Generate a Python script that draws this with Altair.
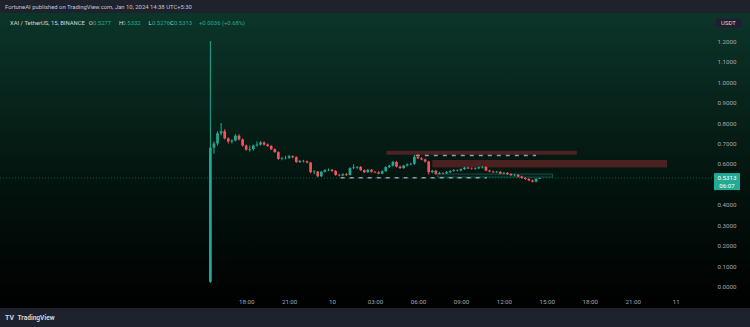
import altair as alt
import pandas as pd

# ---------------- data ----------------
times = pd.date_range("2024-01-09 15:30", "2024-01-10 14:30", freq="15min")  # 15m candles (UTC+5:30)

opens = [0.025, 0.680, 0.700, 0.750, 0.760, 0.725, 0.710, 0.715, 0.738, 0.720,
         0.690, 0.670, 0.673, 0.690, 0.695, 0.705, 0.695, 0.688, 0.672, 0.658,
         0.625, 0.628, 0.630, 0.638, 0.633, 0.610, 0.615, 0.613, 0.607, 0.560,
         0.563, 0.540, 0.562, 0.570, 0.572, 0.566, 0.547, 0.544, 0.550, 0.546,
         0.580, 0.583, 0.586, 0.570, 0.560, 0.572, 0.562, 0.559, 0.553, 0.565,
         0.585, 0.592, 0.610, 0.587, 0.580, 0.592, 0.598, 0.601, 0.635, 0.628,
         0.622, 0.612, 0.560, 0.567, 0.552, 0.556, 0.554, 0.560, 0.566, 0.570,
         0.568, 0.575, 0.582, 0.578, 0.576, 0.579, 0.584, 0.586, 0.568, 0.563,
         0.560, 0.562, 0.553, 0.557, 0.551, 0.545, 0.547, 0.539, 0.532, 0.527,
         0.520, 0.514, 0.5277]
highs = [1.200, 0.710, 0.760, 0.800, 0.770, 0.730, 0.720, 0.745, 0.745, 0.725,
         0.695, 0.690, 0.695, 0.710, 0.712, 0.710, 0.700, 0.692, 0.676, 0.662,
         0.635, 0.640, 0.645, 0.642, 0.638, 0.620, 0.620, 0.617, 0.610, 0.570,
         0.566, 0.566, 0.575, 0.578, 0.576, 0.570, 0.552, 0.555, 0.556, 0.584,
         0.598, 0.590, 0.590, 0.574, 0.576, 0.576, 0.566, 0.565, 0.569, 0.589,
         0.597, 0.615, 0.615, 0.592, 0.596, 0.603, 0.606, 0.645, 0.648, 0.633,
         0.626, 0.616, 0.572, 0.571, 0.562, 0.560, 0.566, 0.570, 0.575, 0.574,
         0.579, 0.586, 0.587, 0.583, 0.583, 0.588, 0.590, 0.588, 0.572, 0.567,
         0.566, 0.565, 0.561, 0.560, 0.555, 0.552, 0.551, 0.543, 0.536, 0.531,
         0.524, 0.530, 0.5332]
lows = [0.020, 0.650, 0.690, 0.740, 0.720, 0.700, 0.700, 0.710, 0.715, 0.685,
        0.665, 0.660, 0.665, 0.685, 0.690, 0.690, 0.684, 0.668, 0.655, 0.620,
        0.618, 0.622, 0.625, 0.628, 0.605, 0.605, 0.608, 0.603, 0.555, 0.550,
        0.535, 0.537, 0.558, 0.565, 0.562, 0.543, 0.540, 0.540, 0.542, 0.544,
        0.575, 0.576, 0.566, 0.556, 0.557, 0.558, 0.555, 0.550, 0.550, 0.562,
        0.580, 0.588, 0.583, 0.576, 0.577, 0.588, 0.594, 0.596, 0.624, 0.618,
        0.607, 0.548, 0.555, 0.548, 0.549, 0.550, 0.552, 0.556, 0.562, 0.564,
        0.564, 0.571, 0.575, 0.573, 0.572, 0.575, 0.578, 0.565, 0.560, 0.556,
        0.556, 0.550, 0.550, 0.547, 0.542, 0.540, 0.535, 0.528, 0.522, 0.516,
        0.510, 0.510, 0.5276]
closes = [0.680, 0.700, 0.750, 0.760, 0.725, 0.710, 0.715, 0.738, 0.720, 0.690,
          0.670, 0.673, 0.690, 0.695, 0.705, 0.695, 0.688, 0.672, 0.658, 0.625,
          0.628, 0.630, 0.638, 0.633, 0.610, 0.615, 0.613, 0.607, 0.560, 0.563,
          0.540, 0.562, 0.570, 0.572, 0.566, 0.547, 0.544, 0.550, 0.546, 0.580,
          0.583, 0.586, 0.570, 0.560, 0.572, 0.562, 0.559, 0.553, 0.565, 0.585,
          0.592, 0.610, 0.587, 0.580, 0.592, 0.598, 0.601, 0.635, 0.628, 0.622,
          0.612, 0.560, 0.567, 0.552, 0.556, 0.554, 0.560, 0.566, 0.570, 0.568,
          0.575, 0.582, 0.578, 0.576, 0.579, 0.584, 0.586, 0.568, 0.563, 0.560,
          0.562, 0.553, 0.557, 0.551, 0.545, 0.547, 0.539, 0.532, 0.527, 0.520,
          0.514, 0.5277, 0.5313]

# annotation zones (hours since 2024-01-09 00:00, prices)
zone_start = [27.8, 31.0]
zone_end = [41.1, 47.4]
zone_low = [0.645, 0.583]
zone_high = [0.665, 0.620]

level_start = [29.85, 24.6]
level_end = [38.25, 34.8]
level_price = [0.641, 0.533]

box_start = [31.35]
box_end = [39.4]
box_low = [0.536]
box_high = [0.551]

price_ticks = [0.0, 0.1, 0.2, 0.3, 0.4, 0.6, 0.7, 0.8, 0.9, 1.0, 1.1, 1.2]
time_ticks = [18, 21, 24, 27, 30, 33, 36, 39, 42, 45, 48]

last_close = closes[-1]

# ---------------- frames ----------------
base_day = pd.Timestamp("2024-01-09")
hours = [(t - base_day).total_seconds() / 3600 for t in times]
df = pd.DataFrame({"h": hours, "open": opens, "high": highs, "low": lows, "close": closes})
df["dir"] = ["up" if c >= o else "down" for o, c in zip(opens, closes)]

zones = pd.DataFrame({"x1": zone_start, "x2": zone_end, "lo": zone_low, "hi": zone_high})
levels = pd.DataFrame({"x1": level_start, "x2": level_end, "p": level_price})
gbox = pd.DataFrame({"x1": box_start, "x2": box_end, "lo": box_low, "hi": box_high})
one = pd.DataFrame({"a": [0]})

GREEN = "#22ab94"
RED = "#f7525f"
FONT = "Roboto"
W, H = 712, 280

xs = alt.Scale(domain=[1.154, 50.19], nice=False, zero=False)
ys = alt.Scale(domain=[-0.0489, 1.3172], nice=False, zero=False)

X_AX = alt.Axis(values=time_ticks, grid=False, domain=False, ticks=False, zindex=2,
                labelColor="#a3a6af", labelFont=FONT, labelFontSize=6.2,
                labelPadding=1, labelFlush=False, labelOverlap=False,
                labelExpr="datum.value == 24 ? '10' : datum.value == 48 ? '11' : "
                          "((datum.value % 24) < 10 ? '0' : '') + (datum.value % 24) + ':00'")
Y_AX = alt.Axis(orient="right", values=price_ticks, format=".4f", grid=False, zindex=2,
                domain=False, ticks=False, labelColor="#a3a6af", labelFont=FONT,
                labelFontSize=6.2, labelPadding=5, labelOverlap=False, labelFlush=False)


def X(field):
    return alt.X(field, scale=xs, title=None, axis=X_AX)


def Y(field=None, datum=None):
    if datum is not None:
        return alt.Y(datum=datum, scale=ys, title=None, axis=Y_AX)
    return alt.Y(field, scale=ys, title=None, axis=Y_AX)


# ---------------- layers ----------------
bg = alt.Chart(one).mark_rect(
    color=alt.Gradient(gradient="linear", x1=0, y1=0, x2=0, y2=1,
                       stops=[alt.GradientStop(offset=0, color="#0c3529"),
                              alt.GradientStop(offset=0.55, color="#03150f"),
                              alt.GradientStop(offset=1, color="#000000")])
).encode(x=alt.value(0), x2=alt.value(750), y=alt.value(-4), y2=alt.value(291))

zone_layer = alt.Chart(zones).mark_rect(color="#f23645", opacity=0.3).encode(
    x=X("x1:Q"), x2="x2:Q", y=Y("lo:Q"), y2="hi:Q")

gbox_layer = alt.Chart(gbox).mark_rect(fill=GREEN, fillOpacity=0.06, stroke=GREEN,
                                       strokeOpacity=0.4, strokeWidth=1).encode(
    x=X("x1:Q"), x2="x2:Q", y=Y("lo:Q"), y2="hi:Q")

level_layer = alt.Chart(levels).mark_rule(color="#b2b5be", strokeWidth=1.5,
                                          strokeDash=[4, 5], opacity=0.85).encode(
    x=X("x1:Q"), x2="x2:Q", y=Y("p:Q"))

price_line = alt.Chart(one).mark_rule(color=GREEN, strokeWidth=1, strokeDash=[1, 2],
                                      opacity=0.45).encode(
    x=alt.value(0), x2=alt.value(W), y=Y(datum=last_close))

color_enc = alt.Color("dir:N", scale=alt.Scale(domain=["up", "down"], range=[GREEN, RED]),
                      legend=None)

wicks = alt.Chart(df).mark_rule(strokeWidth=1).encode(
    x=X("h:Q"), y=Y("low:Q"), y2="high:Q", color=color_enc)

bodies = alt.Chart(df).mark_bar(size=2.7).encode(
    x=X("h:Q"), y=Y("open:Q"), y2="close:Q", color=color_enc)

# price tag on the right axis
tag_box = alt.Chart(one).mark_rect(color=GREEN, yOffset=-5, y2Offset=12).encode(
    x=alt.value(714), x2=alt.value(740), y=Y(datum=last_close), y2=alt.Y2(datum=last_close))
tag_price = alt.Chart(one).mark_text(text=f"{last_close:.4f}", color="white", font=FONT,
                                     fontSize=6.2, align="center", baseline="middle").encode(
    x=alt.value(727), y=Y(datum=last_close))
tag_time = alt.Chart(one).mark_text(text="06:07", color="white", font=FONT, fontSize=6.2,
                                    align="center", baseline="middle", dy=8).encode(
    x=alt.value(727), y=Y(datum=last_close))

usdt_box = alt.Chart(one).mark_rect(color="#1c2030", stroke="#2a2e39", strokeWidth=0.5,
                                    cornerRadius=1).encode(
    x=alt.value(715), x2=alt.value(742), y=alt.value(1), y2=alt.value(11))
usdt_txt = alt.Chart(one).mark_text(text="USDT", color="#d1d4dc", font=FONT, fontSize=6,
                                    align="center", baseline="middle").encode(
    x=alt.value(728.5), y=alt.value(6))


def txt(s, x, y, color, size=5.9, weight="normal"):
    return alt.Chart(one).mark_text(text=s, color=color, font=FONT, fontSize=size,
                                    fontWeight=weight, align="left", baseline="middle").encode(
        x=alt.value(x), y=alt.value(y))


header = txt("FortuneAI published on TradingView.com, Jan 10, 2024 14:38 UTC+5:30",
             5, -10, "#c3c6ce")

legend_parts = [
    ("XAI / TetherUS, 15, BINANCE", 10, "#d1d4dc"),
    ("O", 88.7, "#d1d4dc"), (f"{opens[-1]:.4f}", 93, GREEN),
    ("H", 119, "#d1d4dc"), (f"{highs[-1]:.4f}", 122.5, GREEN),
    ("L", 148.5, "#d1d4dc"), (f"{lows[-1]:.4f}", 152, GREEN),
    ("C", 170, "#d1d4dc"), (f"{closes[-1]:.4f}", 174, GREEN),
    ("+0.0036 (+0.68%)", 199, GREEN),
]
legend_layers = [txt(s, x, 6, c) for s, x, c in legend_parts]

logo = txt("TV", 5, 301, "#d1d4dc", size=7, weight="bold")
brand = txt("TradingView", 17.5, 301, "#d1d4dc", size=6.6, weight="bold")

chart = alt.layer(
    bg, zone_layer, gbox_layer, level_layer, price_line, wicks, bodies,
    tag_box, tag_price, tag_time, usdt_box, usdt_txt, header, *legend_layers, logo, brand
).properties(
    width=W, height=H, autosize="none",
    padding={"top": 17, "left": 0, "right": 38, "bottom": 30},
    background="#1e222d"
).configure_view(stroke=None)

chart.save("out.html", embed_options={"renderer": "svg", "actions": False})
